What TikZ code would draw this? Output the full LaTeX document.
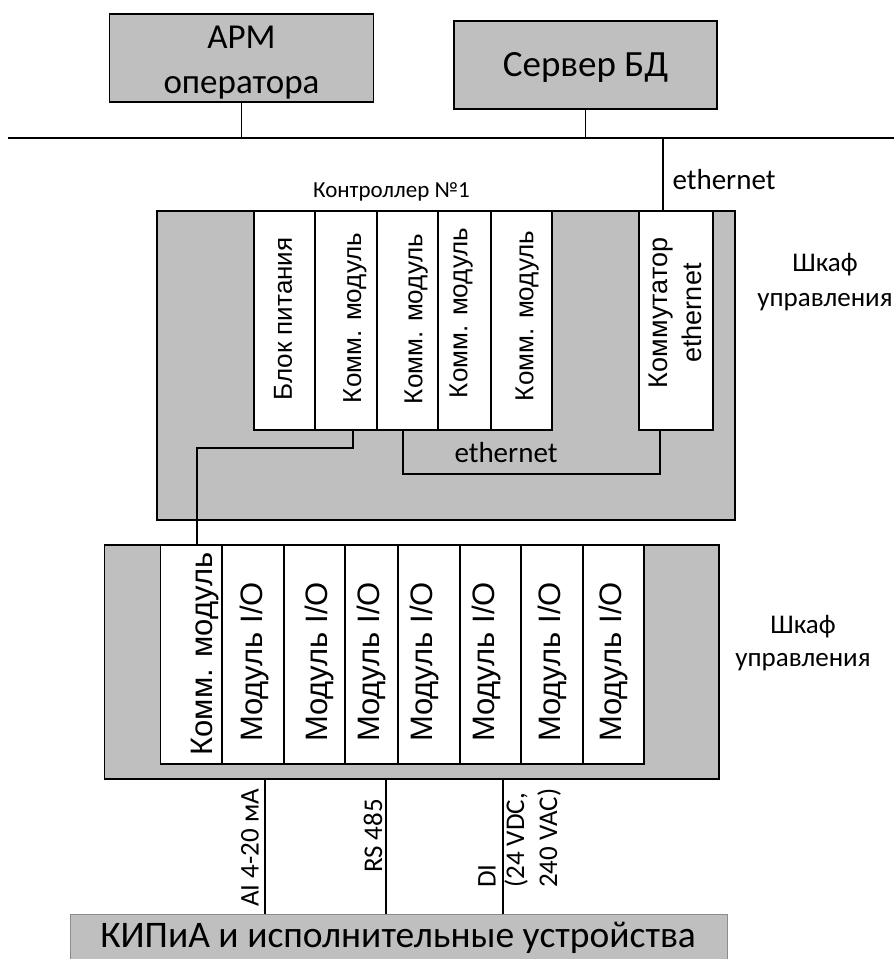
\documentclass[tikz,border=0pt]{standalone}
\usepackage{fontspec}
\setmainfont{Carlito}
\newfontfamily\arialf{Liberation Sans}
\usetikzlibrary{calc}
\definecolor{boxgray}{RGB}{191,191,191}
\newcommand\fsz[2]{\fontsize{#1}{#2}\selectfont}
\begin{document}
\begin{tikzpicture}[x=1pt,y=-1pt,
  box/.style={draw, line width=1.4pt, fill=boxgray, inner sep=0pt, outer sep=0pt, anchor=north west},
  mod/.style={draw, line width=1.4pt, fill=white, inner sep=0pt, outer sep=0pt, anchor=north west, minimum height=219pt},
  wire/.style={line width=1.4pt},
  vtxt/.style={rotate=90, inner sep=0pt, font=\arialf\fsz{26}{32}},
  iotxt/.style={rotate=90, inner sep=0pt, font=\arialf\fsz{31}{37}},
  lbl/.style={inner sep=0pt, align=center},
  sig/.style={rotate=90, inner sep=0pt, anchor=west, align=left, font=\fsz{27}{33}},
]
\fill[white] (0,0) rectangle (894,959);
\useasboundingbox (0,0) rectangle (894,959);
% top
\node[box, minimum width=264pt, minimum height=88pt] (apm) at (109.5,14) {};
\node[lbl, font=\fsz{35}{45}] (apmt) at (241.5,62.5) {АРМ\\оператора};
\node[box, minimum width=263pt, minimum height=88pt] (srv) at (454,21) {};
\node[lbl, font=\fsz{37}{45}] (srvt) at (585.5,67) {Сервер БД};
\coordinate (busL) at (8,138);
\coordinate (busR) at (894,138);
\coordinate (ethT) at (663,138);
\draw[wire] (busL) -- (busR);
\draw[wire] (apm.south) -- (apm.south |- busL);
\draw[wire] (srv.south) -- (srv.south |- busL);
% controller
\node[box, minimum width=578pt, minimum height=309pt] (ctrl) at (157,211) {};
\node[lbl, font=\fsz{23}{28}] (ctrlt) at (391.5,192) {Контроллер №1};
\draw[wire] (ethT) -- (ethT |- ctrl.north);
\node[lbl, font=\fsz{29}{34}] (etht) at (724,180) {ethernet};
\node[mod, minimum width=61pt] (cm1) at (254,211) {};
\node[mod, minimum width=62pt] (cm2) at (315,211) {};
\node[mod, minimum width=61pt] (cm3) at (377,211) {};
\node[mod, minimum width=53pt] (cm4) at (438,211) {};
\node[mod, minimum width=61pt] (cm5) at (491,211) {};
\node[mod, minimum width=74pt] (sw) at (639,211) {};
\node[vtxt] (cm1t) at (283,319) {Блок питания};
\node[vtxt] (cm2t) at (355,318) {Комм. модуль};
\node[vtxt] (cm3t) at (416,319) {Комм. модуль};
\node[vtxt] (cm4t) at (461,313) {Комм. модуль};
\node[vtxt] (cm5t) at (527,316) {Комм. модуль};
\node[vtxt, align=center, font=\arialf\fsz{27}{34}] (swt) at (675,313) {Коммутатор\\ethernet};
\coordinate (e1) at (403,474);
\draw[wire] (cm3.south -| e1) -- (e1) -| ([xshift=-16pt]sw.south);
\node[lbl, font=\fsz{29}{34}] (eth2t) at (506,453) {ethernet};
\node[lbl, font=\fsz{27}{35}] (cab1) at (825,282) {Шкаф\\управления};
% I/O cabinet
\node[box, minimum width=614.4pt, minimum height=234pt] (io) at (104.6,545) {};
\node[mod, minimum width=61.5pt] (ioc) at (160.5,545) {};
\node[mod, minimum width=62pt] (io1) at (222,545) {};
\node[mod, minimum width=61pt] (io2) at (284,545) {};
\node[mod, minimum width=53pt] (io3) at (345,545) {};
\node[mod, minimum width=62pt] (io4) at (398,545) {};
\node[mod, minimum width=61pt] (io5) at (460,545) {};
\node[mod, minimum width=62pt] (io6) at (521,545) {};
\node[mod, minimum width=61pt] (io7) at (583,545) {};
\node[iotxt] (ioct) at (205,654) {Комм. модуль};
\node[iotxt] (io1t) at (254,662) {Модуль I/O};
\node[iotxt] (io2t) at (319.5,662) {Модуль I/O};
\node[iotxt] (io3t) at (371.5,662) {Модуль I/O};
\node[iotxt] (io4t) at (424.5,662) {Модуль I/O};
\node[iotxt] (io5t) at (486.5,662) {Модуль I/O};
\node[iotxt] (io6t) at (552.5,662) {Модуль I/O};
\node[iotxt] (io7t) at (613.5,662) {Модуль I/O};
\node[lbl, font=\fsz{27}{33}] (cab2) at (803,643) {Шкаф\\управления};
\coordinate (c1) at (197,448);
\draw[wire] ([xshift=7pt]cm2.south) |- (c1) -- (c1 |- ioc.north);
% field devices
\node[box, draw=black!45, line width=0.8pt, minimum width=657pt, minimum height=50pt] (kip) at (70,914) {};
\node[lbl, font=\fsz{37.5}{40}] (kipt) at (398,938) {КИПиА и исполнительные устройства};
\coordinate (s1) at (265,0);
\coordinate (s2) at (386,0);
\coordinate (s3) at (503,0);
\draw[wire] (s1 |- io.south) -- (s1 |- kip.north);
\draw[wire] (s2 |- io.south) -- (s2 |- kip.north);
\draw[wire] (s3 |- io.south) -- (s3 |- kip.north);
\node[sig] (s1t) at (250,907) {AI 4-20 мА};
\node[sig] (s2t) at (373,873) {RS 485};
\node[sig] (s3t) at (487,888) {DI};
\node[sig] (s4t) at (532.5,888) {(24 VDC,\\240 VAC)};
\end{tikzpicture}
\end{document}
